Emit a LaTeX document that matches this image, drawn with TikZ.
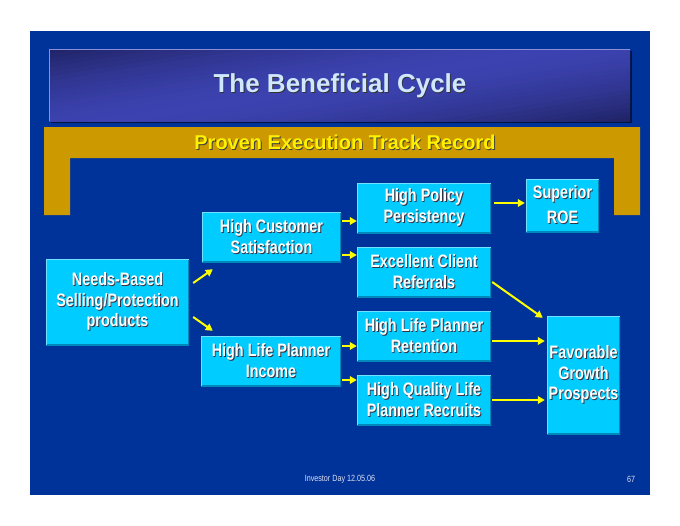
\documentclass[tikz,border=0pt]{standalone}
\usepackage{fontspec}
\setmainfont{Liberation Sans}
\newfontfamily\narrowfont{Liberation Sans}[FakeStretch=0.8]
\usetikzlibrary{arrows.meta,calc}
\definecolor{slidebg}{HTML}{003399}
\definecolor{titledark}{HTML}{1A1D58}
\definecolor{titlelight}{HTML}{3C43B0}
\definecolor{titleedge}{HTML}{8A8FD8}
\definecolor{titletext}{HTML}{D0E8FF}
\definecolor{gold}{HTML}{CC9900}
\definecolor{boxc}{HTML}{00CCFF}
\definecolor{boxlight}{HTML}{70E2FF}
\definecolor{boxdark}{HTML}{0088BB}
\definecolor{arrowc}{HTML}{FFFF00}
\definecolor{shadowc}{HTML}{333344}
\definecolor{foottext}{HTML}{DDDDEE}
\newcommand\shd[2][shadowc]{\leavevmode\rlap{\kern0.9pt\raisebox{-0.9pt}{\color{#1}#2}}#2}
\tikzset{
  box/.style={fill=boxc, inner sep=0pt, align=center, text=white,
    font=\narrowfont\bfseries\fontsize{18}{20.5}\selectfont,
    path picture={
      \draw[boxdark, line width=2pt] (path picture bounding box.north east) |- (path picture bounding box.south west);
      \draw[boxlight, line width=2pt] (path picture bounding box.south west) |- (path picture bounding box.north east);
    }},
  arr/.style={draw=arrowc, line width=2pt, -{Triangle[length=7pt,width=7.5pt]}},
  lbl/.style={inner sep=0pt, align=center}
}
\begin{document}
\begin{tikzpicture}[x=1pt,y=-1pt]
\useasboundingbox (0,0) rectangle (680,525);
\fill[white] (0,0) rectangle (680,525);
% slide
\fill[slidebg] (30,31) rectangle (650,495);
% title bar
\fill[black!60!slidebg] (51,51) rectangle (632,123);
\begin{scope}
  \clip (49,49) rectangle (630,121);
  \fill[titledark] (49,49) rectangle (630,121);
  \begin{scope}[shift={(339.5,85)}, rotate=9]
    \foreach \i in {0,...,39} {
      \pgfmathsetmacro\t{-90+4.5*\i}
      \pgfmathsetmacro\p{max(0,100*(1-(abs(\t+2.25)/90)^1.6))}
      \fill[titlelight!\p!titledark] (-400,\t) rectangle (400,\t+5);
    }
  \end{scope}
\end{scope}
\draw[titleedge, line width=1pt] (49.5,120.5) |- (630,49.5);
\node[lbl, font=\bfseries\fontsize{26}{28}\selectfont, text=titletext] (title) at (340,86) {\shd[black!80]{The Beneficial Cycle}};
% gold frame
\fill[gold] (44,127) -- (640,127) -- (640,215) -- (614,215) -- (614,158) -- (70,158) -- (70,215) -- (44,215) -- cycle;
\node[lbl, font=\bfseries\fontsize{20}{22}\selectfont, text=yellow] (track) at (345,143) {\shd[black!75]{Proven Execution Track Record}};
% boxes
\node[box, minimum width=143, minimum height=86] (needs) at (117.5,302) {\shd{Needs-Based}\\\shd{Selling/Protection}\\\shd{products}};
\node[box, minimum width=139, minimum height=50] (hcs) at (271.5,237) {\shd{High Customer}\\\shd{Satisfaction}};
\node[box, minimum width=140, minimum height=50] (hlpi) at (271,361) {\shd{High Life Planner}\\\shd{Income}};
\node[box, minimum width=134, minimum height=50] (hpp) at (424,208) {\shd{High Policy}\\\shd{Persistency}};
\node[box, minimum width=134, minimum height=50] (ecr) at (424,272) {\shd{Excellent Client}\\\shd{Referrals}};
\node[box, minimum width=134, minimum height=50] (hlpr) at (424,336) {\shd{High Life Planner}\\\shd{Retention}};
\node[box, minimum width=134, minimum height=50] (hqlr) at (424,400) {\shd{High Quality Life}\\\shd{Planner Recruits}};
\node[box, minimum width=73, minimum height=53, font=\narrowfont\bfseries\fontsize{18}{25}\selectfont] (sroe) at (562.5,205.5) {\shd{Superior}\\\shd{ROE}};
\node[box, minimum width=73, minimum height=118] (fgp) at (583.5,375) {\shd{Favorable}\\\shd{Growth}\\\shd{Prospects}};
% arrows
\draw[arr] ([shift={(4,-19)}]needs.east) -- ([shift={(11,7)}]hcs.south west);
\draw[arr] ([shift={(4,15)}]needs.east) -- ([shift={(12,-5)}]hlpi.north west);
\draw[arr] ([shift={(1,-16)}]hcs.east) -- ([shift={(0,13)}]hpp.west);
\draw[arr] ([shift={(1,18)}]hcs.east) -- ([shift={(0,-17)}]ecr.west);
\draw[arr] ([shift={(1,-15)}]hlpi.east) -- ([shift={(0,10)}]hlpr.west);
\draw[arr] ([shift={(1,19)}]hlpi.east) -- ([shift={(0,-20)}]hqlr.west);
\draw[arr] ([shift={(3,-5)}]hpp.east) -- ([shift={(-1,-2.5)}]sroe.west);
\draw[arr] ([shift={(1,10)}]ecr.east) -- ([shift={(-4,2)}]fgp.north west);
\draw[arr] ([shift={(1,5)}]hlpr.east) -- ([shift={(-2,-34)}]fgp.west);
\draw[arr] ([shift={(1,0)}]hqlr.east) -- ([shift={(-2,25)}]fgp.west);
% footer
\node[lbl, font=\narrowfont\fontsize{9}{10}\selectfont, text=foottext] (foot) at (340,479) {Investor Day 12.05.06};
\node[lbl, font=\narrowfont\fontsize{9}{10}\selectfont, text=foottext] (page) at (631,479) {67};
\end{tikzpicture}
\end{document}
